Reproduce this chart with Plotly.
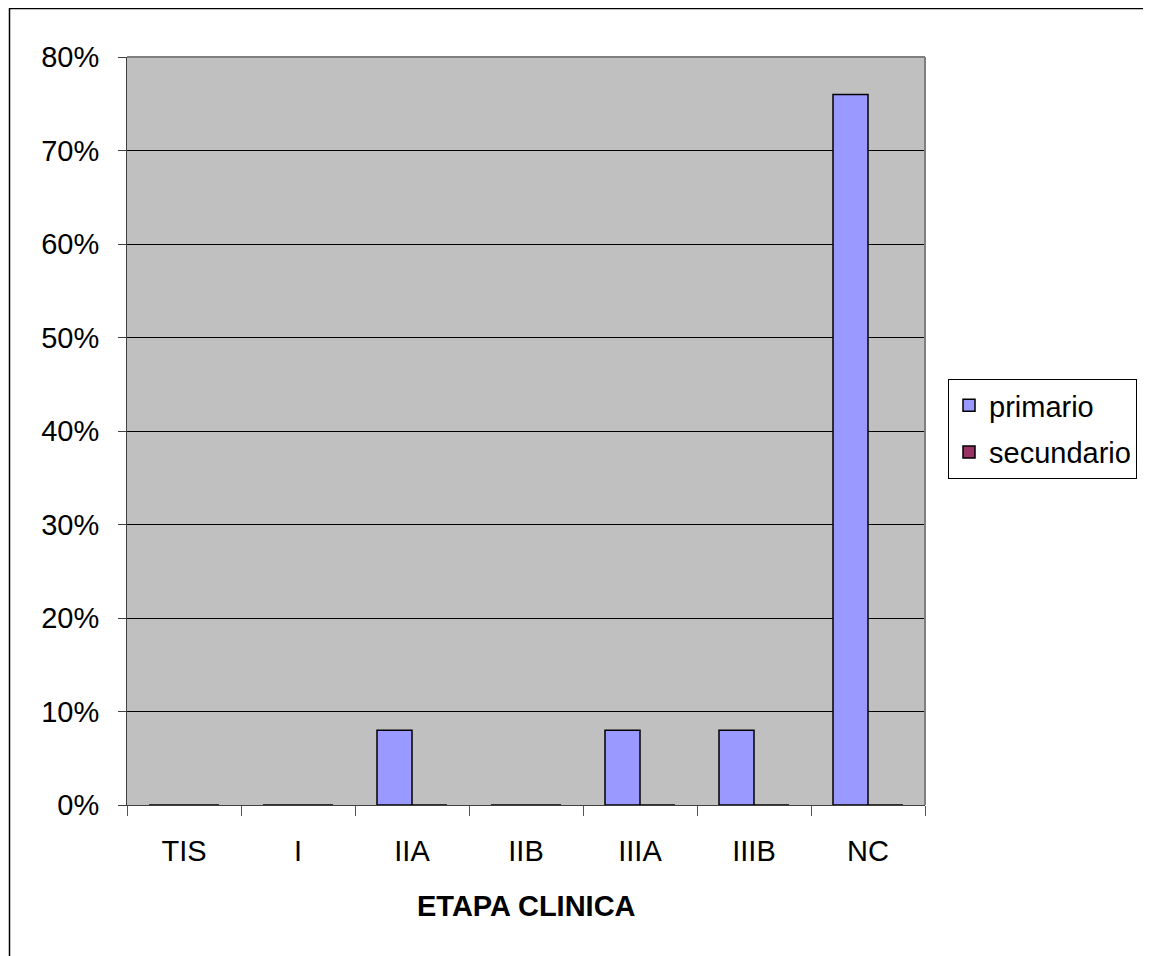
import plotly.graph_objects as go

categories = ["TIS", "I", "IIA", "IIB", "IIIA", "IIIB", "NC"]
primario = [0.0, 0.0, 0.08, 0.0, 0.08, 0.08, 0.76]
secundario = [0.0, 0.0, 0.0, 0.0, 0.0, 0.0, 0.0]
y_ticks = [0, 0.1, 0.2, 0.3, 0.4, 0.5, 0.6, 0.7, 0.8]

# page has an 8px body margin; figure coordinates = page coordinates - 8
OFF = 8
W, H = 1151 - OFF, 956 - OFF
L, R, T, B = 127 - OFF, 925 - OFF, 57 - OFF, 805 - OFF
pw, ph = R - L, B - T

font = "Liberation Sans, Arial, sans-serif"
FS = 29

fig = go.Figure()
fig.add_trace(go.Bar(name="primario", x=categories, y=primario, legendgroup="p",
                     marker=dict(color="#9999FF", line=dict(color="black", width=1.5))))
fig.add_trace(go.Bar(name="secundario", x=categories, y=secundario, legendgroup="s",
                     marker=dict(color="#993366", line=dict(color="black", width=1.5))))

def px_x(x):
    return (x - OFF - L) / pw

def px_y(y):
    return (B - (y - OFF)) / ph

fig.update_layout(
    width=W, height=H,
    margin=dict(l=L, r=W - R, t=T, b=H - B, autoexpand=False),
    paper_bgcolor="white",
    plot_bgcolor="#C0C0C0",
    barmode="group",
    bargap=0.386,
    bargroupgap=0,
    font=dict(family=font, size=FS, color="black"),
    legend=dict(x=px_x(948), y=px_y(379), xanchor="left", yanchor="top",
                bordercolor="black", borderwidth=1, bgcolor="white",
                font=dict(size=FS), itemwidth=30, tracegroupgap=6,
                traceorder="grouped"),
    showlegend=True,
    xaxis=dict(type="category", tickson="boundaries", ticks="outside", ticklen=10,
               tickcolor="#555555", showgrid=False, showline=True, linecolor="#404040",
               linewidth=1, ticklabelstandoff=20, tickfont=dict(size=FS),
               zeroline=False),
    yaxis=dict(range=[0, 0.8], tickvals=y_ticks, tickformat=".0%", ticks="outside",
               ticklen=8, tickcolor="#404040", showgrid=True, gridcolor="black",
               gridwidth=1, showline=True, linecolor="#404040", linewidth=1,
               ticklabelstandoff=13, tickfont=dict(size=FS), zeroline=False),
    shapes=[
        dict(type="line", xref="paper", yref="paper", x0=0, x1=1, y0=1, y1=1,
             line=dict(color="#808080", width=2), layer="above"),
        dict(type="line", xref="paper", yref="paper", x0=1, x1=1, y0=0, y1=1,
             line=dict(color="#808080", width=2), layer="above"),
        dict(type="rect", xref="paper", yref="paper",
             x0=px_x(9.5), x1=px_x(1170), y0=px_y(975), y1=px_y(8.5),
             line=dict(color="black", width=1.5), fillcolor="rgba(0,0,0,0)"),
    ],
    annotations=[
        dict(text="<b>ETAPA CLINICA</b>", xref="paper", yref="paper",
             x=px_x(526.5), y=px_y(906), xanchor="center", yanchor="middle",
             showarrow=False, font=dict(size=FS, family=font)),
    ],
)

fig.write_html("out.html")
